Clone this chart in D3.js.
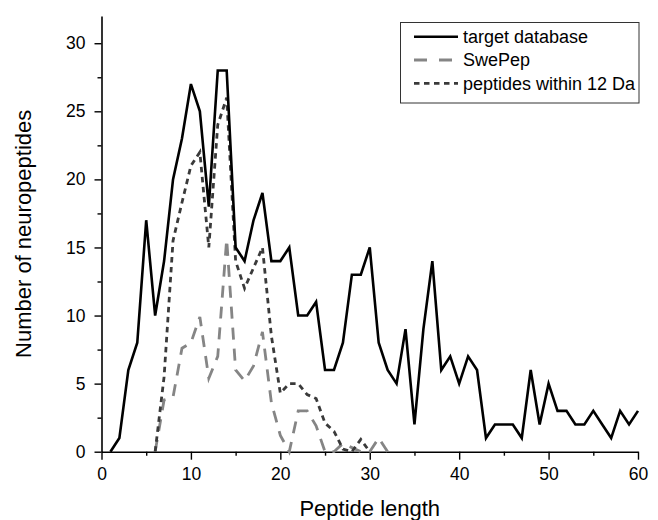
<!DOCTYPE html>
<html>
<head>
<meta charset="utf-8">
<script src="https://cdn.jsdelivr.net/npm/d3@7"></script>
<style>
  html, body { margin: 0; padding: 0; background: #fff; }
  svg { display: block; font-family: "Liberation Sans", Arial, sans-serif; }
</style>
</head>
<body>
<svg id="chart" width="658" height="520"></svg>
<script>
// ---- data ----
const targetLength = [1,2,3,4,5,6,7,8,9,10,11,12,13,14,15,16,17,18,19,20,21,22,23,24,25,26,27,28,29,30,31,32,33,34,35,36,37,38,39,40,41,42,43,44,45,46,47,48,49,50,51,52,53,54,55,56,57,58,59,60];
const targetCount  = [0,1,6,8,17,10,14,20,23,27,25,18,28,28,15,14,17,19,14,14,15,10,10,11,6,6,8,13,13,15,8,6,5,9,2,9,14,6,7,5,7,6,1,2,2,2,1,6,2,5,3,3,2,2,3,2,1,3,2,3];

const swepepLength = [6,7,8,9,10,11,12,13,14,15,16,17,18,19,20,21,22,23,24,25,26,27,28,29,30,31,32];
const swepepCount  = [0,3.8,4,7.6,8,9.9,5.4,7,15.6,6,5.2,6.3,8.8,3.6,1.2,0,3,3,1.9,0,0,0.6,0.3,0,0,1,0];

const within12Length = [6,7,8,9,10,11,12,13,14,15,16,17,18,19,20,21,22,23,24,25,26,27,28,29,30];
const within12Count  = [0,5.5,15.5,18.3,21,22,15,24,26,14,12,13.5,15,8.5,4.3,5,5,4.2,3.9,2.1,1.5,0.2,0,0.9,0];

const xMajorTicks = [0,10,20,30,40,50,60];
const xMinorTicks = [5,15,25,35,45,55];
const yMajorTicks = [0,5,10,15,20,25,30];
const yMinorTicks = [2.5,7.5,12.5,17.5,22.5,27.5];

const seriesNames = ["target database", "SwePep", "peptides within 12 Da"];
const xTitle = "Peptide length";
const yTitle = "Number of neuropeptides";

// ---- layout ----
const svg = d3.select("#chart");
const plotLeft = 101.5, plotRight = 638, plotTop = 16, plotBottom = 451.7;

const x = d3.scaleLinear().domain([0, 60]).range([plotLeft, plotRight]);
const y = d3.scaleLinear().domain([0, 32]).range([plotBottom, plotTop]);

// axes
const tickFont = "17.5px";
svg.append("g").attr("transform", `translate(0,${plotBottom})`)
  .call(d3.axisBottom(x).tickValues(xMajorTicks).tickSize(8).tickPadding(8).tickSizeOuter(0).tickFormat(d3.format("d")));
svg.append("g").attr("transform", `translate(0,${plotBottom})`)
  .call(d3.axisBottom(x).tickValues(xMinorTicks).tickSize(4).tickFormat("").tickSizeOuter(0))
  .select(".domain").remove();

svg.append("g").attr("transform", `translate(${plotLeft},0)`)
  .call(d3.axisLeft(y).tickValues(yMajorTicks).tickSize(7).tickPadding(9).tickSizeOuter(0).tickFormat(d3.format("d")));
svg.append("g").attr("transform", `translate(${plotLeft},0)`)
  .call(d3.axisLeft(y).tickValues(yMinorTicks).tickSize(4).tickFormat("").tickSizeOuter(0))
  .select(".domain").remove();

svg.selectAll(".domain").attr("stroke", "#000").attr("stroke-width", 1.6);
svg.selectAll(".tick line").attr("stroke", "#000").attr("stroke-width", 1.4);
svg.selectAll(".tick text").attr("fill", "#000").style("font-size", tickFont)
  .style("font-family", '"Liberation Sans", Arial, sans-serif');

// titles
svg.append("text")
  .attr("x", (plotLeft + plotRight) / 2).attr("y", 515.5)
  .attr("text-anchor", "middle")
  .style("font-size", "22px").attr("fill", "#000")
  .text(xTitle);
svg.append("text")
  .attr("transform", `translate(31,${(plotTop + plotBottom) / 2}) rotate(-90)`)
  .attr("text-anchor", "middle")
  .style("font-size", "22px").attr("fill", "#000")
  .text(yTitle);

// lines
const styles = [
  { color: "#000000", width: 2.6, dash: null },
  { color: "#858585", width: 2.8, dash: "12,9" },
  { color: "#3a3a3a", width: 2.8, dash: "5.5,4.5" }
];
const series = [
  { xs: targetLength, ys: targetCount },
  { xs: swepepLength, ys: swepepCount },
  { xs: within12Length, ys: within12Count }
];
const line = d3.line().x(d => x(d[0])).y(d => y(d[1]));

[1, 2, 0].forEach(i => {
  const s = series[i], st = styles[i];
  const pts = s.xs.map((v, k) => [v, s.ys[k]]);
  svg.append("path")
    .datum(pts)
    .attr("d", line)
    .attr("fill", "none")
    .attr("stroke", st.color)
    .attr("stroke-width", st.width)
    .attr("stroke-linejoin", "miter")
    .attr("stroke-dasharray", st.dash);
});

// legend
const lg = svg.append("g");
lg.append("rect")
  .attr("x", 400.5).attr("y", 22.5).attr("width", 238.5).attr("height", 80.5)
  .attr("fill", "#fff").attr("stroke", "#333").attr("stroke-width", 1);
const rowY = [36.7, 60, 83.3];
seriesNames.forEach((name, i) => {
  const st = styles[i];
  lg.append("line")
    .attr("x1", 414).attr("x2", 458)
    .attr("y1", rowY[i]).attr("y2", rowY[i])
    .attr("stroke", st.color).attr("stroke-width", st.width)
    .attr("stroke-dasharray", i === 1 ? "13,12" : st.dash);
  lg.append("text")
    .attr("x", 463).attr("y", rowY[i] + 6.3)
    .style("font-size", "18px").attr("fill", "#000")
    .text(name);
});
</script>
</body>
</html>
